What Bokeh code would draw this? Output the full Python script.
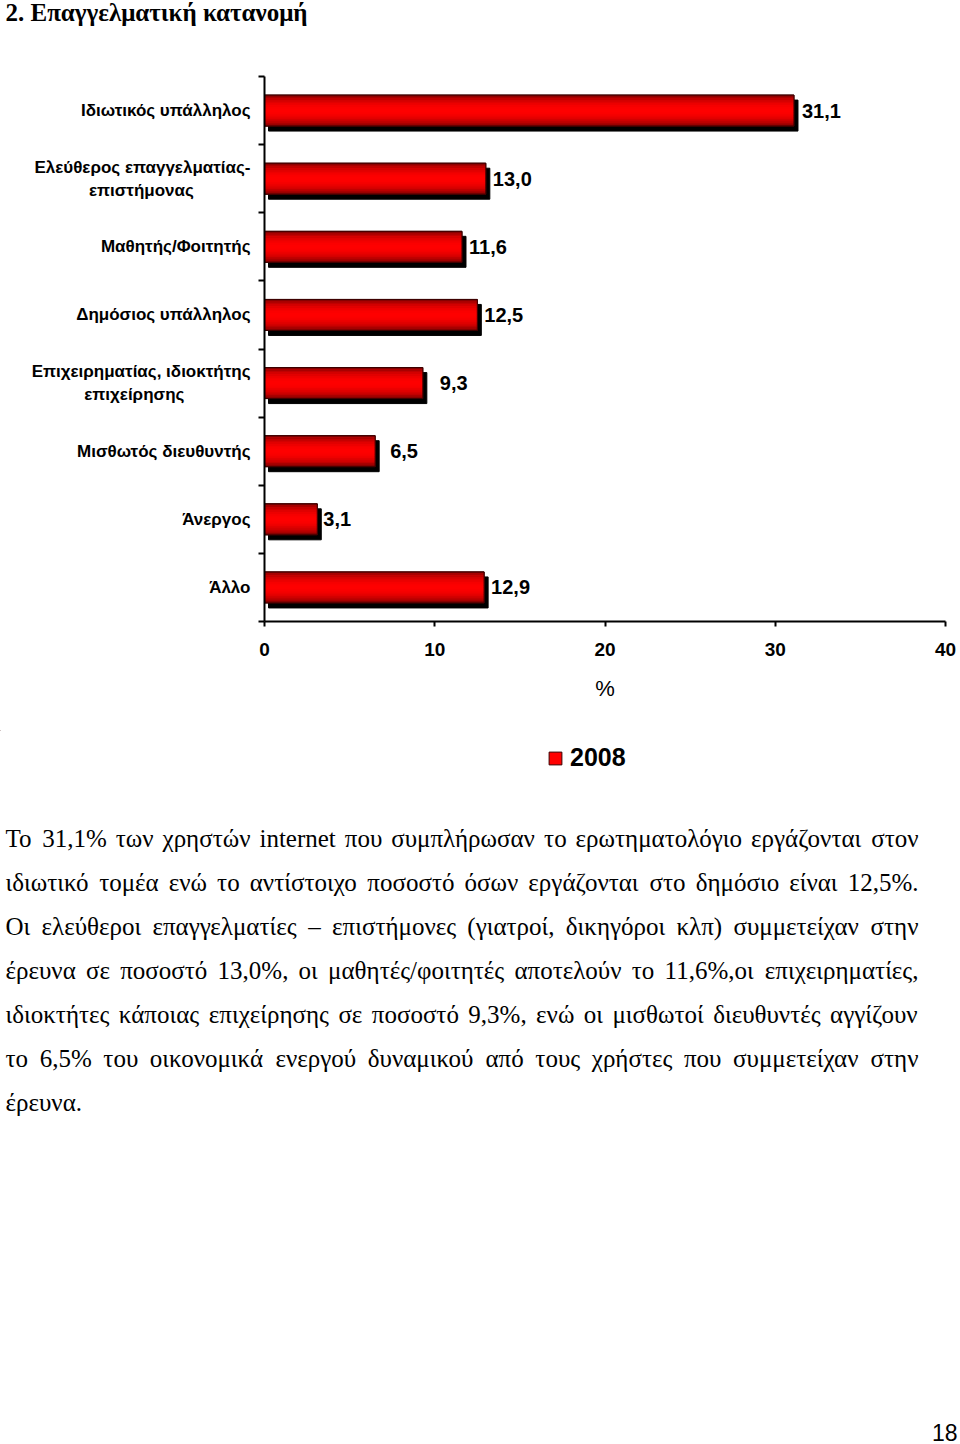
import math
import glob
import os
import struct
from bokeh.plotting import figure
from bokeh.layouts import column
from bokeh.models import (ColumnDataSource, Range1d, FixedTicker, Legend, LegendItem)
from bokeh.core.properties import value
from bokeh.embed import file_html
from bokeh.resources import INLINE

# ---------------- data ----------------
page_title = "2. Επαγγελματική κατανομή"
categories = [
    "Ιδιωτικός υπάλληλος",
    "Ελεύθερος επαγγελματίας-\nεπιστήμονας",
    "Μαθητής/Φοιτητής",
    "Δημόσιος υπάλληλος",
    "Επιχειρηματίας, ιδιοκτήτης\nεπιχείρησης",
    "Μισθωτός διευθυντής",
    "Άνεργος",
    "Άλλο",
]
values_2008 = [31.1, 13.0, 11.6, 12.5, 9.3, 6.5, 3.1, 12.9]
series_name = "2008"
x_ticks = [0, 10, 20, 30, 40]
x_axis_title = "%"
paragraph_lines = [
    "Το 31,1%  των χρηστών internet που συμπλήρωσαν το ερωτηματολόγιο εργάζονται στον",
    "ιδιωτικό τομέα ενώ το αντίστοιχο ποσοστό όσων εργάζονται στο δημόσιο είναι 12,5%.",
    "Οι ελεύθεροι επαγγελματίες – επιστήμονες (γιατροί, δικηγόροι κλπ)  συμμετείχαν στην",
    "έρευνα σε ποσοστό 13,0%, οι μαθητές/φοιτητές αποτελούν το 11,6%,οι επιχειρηματίες,",
    "ιδιοκτήτες κάποιας επιχείρησης σε ποσοστό 9,3%, ενώ οι μισθωτοί διευθυντές αγγίζουν",
    "το 6,5% του οικονομικά ενεργού δυναμικού από τους χρήστες που συμμετείχαν στην",
    "έρευνα.",
]
page_number = "18"

# ---------------- layout / style ----------------
W, H = 960, 1444
TOP_H = 40            # title strip
SPLIT = 730           # where the chart figure ends and the text figure begins
FL, FR = 264, 15
FRAME_TOP, FRAME_BOT = 76, 621
CH = SPLIT - TOP_H
FT = FRAME_TOP - TOP_H
FH = FRAME_BOT - FRAME_TOP
FB = CH - FT - FH
FW = W - FL - FR
n = len(categories)
ppx = FW / (x_ticks[-1] - x_ticks[0])
ppy = FH / n
label_gap_px = [8, 7, 7, 7, 17, 15, 6, 7]
BASE_FIX = 0.38       # empirical shift of the alphabetic baseline (in em)
PARA_SIZE = 25


def no_align(f):
    try:
        f.frame_align = False
    except Exception:
        pass


def blank_fig(height):
    f = figure(width=W, height=height, x_range=Range1d(0, W),
               y_range=Range1d(height, 0), output_backend="svg",
               toolbar_location=None, x_axis_type=None, y_axis_type=None,
               min_border=0, min_border_left=0, min_border_right=0,
               min_border_top=0, min_border_bottom=0)
    f.outline_line_color = None
    f.xgrid.visible = False
    f.ygrid.visible = False
    f.border_fill_color = "white"
    f.background_fill_color = "white"
    no_align(f)
    return f


# ---- font metrics (for justified paragraph) ----
def load_width_fn(fname):
    paths = []
    for root in ["/usr/share/fonts", "/usr/local/share/fonts",
                 os.path.expanduser("~/.fonts"), os.path.expanduser("~/.local/share/fonts")]:
        paths += glob.glob(os.path.join(root, "**", fname), recursive=True)
    if not paths:
        return None
    data = open(paths[0], "rb").read()
    num = struct.unpack(">H", data[4:6])[0]
    tables = {}
    for i in range(num):
        tag, _, off, ln = struct.unpack(">4sIII", data[12 + 16 * i:28 + 16 * i])
        tables[tag.decode("latin1")] = off
    upm = struct.unpack(">H", data[tables["head"] + 18:tables["head"] + 20])[0]
    nhm = struct.unpack(">H", data[tables["hhea"] + 34:tables["hhea"] + 36])[0]
    ho = tables["hmtx"]
    adv = [struct.unpack(">H", data[ho + 4 * i:ho + 4 * i + 2])[0] for i in range(nhm)]
    co = tables["cmap"]
    nsub = struct.unpack(">H", data[co + 2:co + 4])[0]
    sub = None
    for i in range(nsub):
        pid, eid, so = struct.unpack(">HHI", data[co + 4 + 8 * i:co + 12 + 8 * i])
        fmt = struct.unpack(">H", data[co + so:co + so + 2])[0]
        if fmt == 4 and (sub is None or (pid == 3 and eid == 1)):
            sub = co + so
    if sub is None:
        return None
    seg2 = struct.unpack(">H", data[sub + 6:sub + 8])[0]
    seg = seg2 // 2
    ends = struct.unpack(">%dH" % seg, data[sub + 14:sub + 14 + seg2])
    starts = struct.unpack(">%dH" % seg, data[sub + 16 + seg2:sub + 16 + 2 * seg2])
    deltas = struct.unpack(">%dh" % seg, data[sub + 16 + 2 * seg2:sub + 16 + 3 * seg2])
    rpos = sub + 16 + 3 * seg2
    roffs = struct.unpack(">%dH" % seg, data[rpos:rpos + seg2])

    def glyph(c):
        for j in range(seg):
            if ends[j] >= c:
                if starts[j] > c:
                    return 0
                if roffs[j] == 0:
                    return (c + deltas[j]) & 0xFFFF
                a = rpos + 2 * j + roffs[j] + 2 * (c - starts[j])
                g = struct.unpack(">H", data[a:a + 2])[0]
                return 0 if g == 0 else (g + deltas[j]) & 0xFFFF
        return 0

    def width(s, size):
        tot = 0
        for ch in s:
            g = glyph(ord(ch))
            tot += adv[g] if g < nhm else adv[-1]
        return tot * size / upm

    return width


try:
    serif_width = load_width_fn("LiberationSerif-Regular.ttf")
except Exception:
    serif_width = None

# ---- title strip ----
p0 = blank_fig(TOP_H)
p0.text(x=[5], y=[21 - BASE_FIX * 25], text=[page_title], text_font=value("Liberation Serif"),
        text_font_style="bold", text_font_size="25px", text_baseline="alphabetic",
        text_align="left", text_color="black")

# ---- chart ----
p = figure(width=W, height=CH, x_range=Range1d(x_ticks[0], x_ticks[-1]),
           y_range=Range1d(n - 0.5, -0.5), output_backend="svg",
           toolbar_location=None, min_border_left=FL, min_border_right=FR,
           min_border_top=FT, min_border_bottom=FB)
p.outline_line_color = None
p.xgrid.visible = False
p.ygrid.visible = False
p.background_fill_color = "white"
p.border_fill_color = "white"
no_align(p)

idx = list(range(n))
bh = 31 / ppy
dx, dy = 4 / ppx, 5 / ppy

shadow = ColumnDataSource(dict(y=[i + dy for i in idx], left=[dx] * n,
                               right=[v + dx for v in values_2008]))
p.hbar(y="y", left="left", right="right", height=bh, source=shadow,
       fill_color="black", line_color="black")

src = ColumnDataSource(dict(y=idx, v=values_2008,
                            lbl=[f"{v:.1f}".replace(".", ",") for v in values_2008],
                            gap=label_gap_px))
p.hbar(y="y", left=0, right="v", height=bh, source=src,
       fill_color="#ff0000", line_color="#3a0000", line_width=1)

nstrip = 18
for k in range(nstrip):
    t = (k + 0.5) / nstrip
    f = math.sin(math.pi * t) ** 0.6
    r = int(100 + (255 - 100) * f)
    col = "#%02x0000" % r
    off = -bh / 2 + t * bh
    s = ColumnDataSource(dict(y=[i + off for i in idx], v=values_2008))
    p.hbar(y="y", left=0, right="v", height=bh / nstrip * 1.15, source=s,
           fill_color=col, line_color=None)

p.hbar(y="y", left=0, right="v", height=bh, source=src, fill_alpha=0,
       line_color="#3a0000", line_width=1)

p.text(x="v", y="y", text="lbl", source=src, x_offset="gap",
       text_font=value("Liberation Sans"), text_font_style="bold",
       text_font_size="20px", text_baseline="middle", text_align="left",
       text_color="black")

# axes
xa = p.xaxis[0]
xa.ticker = FixedTicker(ticks=x_ticks)
xa.major_label_text_font = "Liberation Sans"
xa.major_label_text_font_style = "bold"
xa.major_label_text_font_size = "19px"
xa.major_label_text_color = "black"
xa.major_tick_out = 5
xa.major_tick_in = 0
xa.minor_tick_out = 0
xa.minor_tick_in = 0
xa.axis_line_width = 2
xa.axis_line_color = "black"
xa.major_tick_line_width = 2
xa.major_label_standoff = 16
xa.axis_label = x_axis_title
xa.axis_label_text_font = "Liberation Sans"
xa.axis_label_text_font_style = "normal"
xa.axis_label_text_font_size = "22px"
xa.axis_label_text_color = "black"
xa.axis_label_standoff = 17


def centered_label(text, char_px=8.6, nbsp_px=4.72):
    lines = text.split("\n")
    if len(lines) == 1:
        return text
    longest = max(len(s) for s in lines)
    out = []
    for s in lines:
        pad = int(round((longest - len(s)) * char_px / 2 / nbsp_px))
        out.append(s + "\u00a0" * pad)
    return "\n".join(out)


ya = p.yaxis[0]
ya.ticker = FixedTicker(ticks=idx, minor_ticks=[i - 0.5 for i in range(n + 1)])
ya.major_label_overrides = {i: centered_label(c) for i, c in zip(idx, categories)}
ya.major_label_text_font = "Liberation Sans"
ya.major_label_text_font_style = "bold"
ya.major_label_text_font_size = "17px"
ya.major_label_text_color = "black"
ya.major_tick_out = 0
ya.major_tick_in = 0
ya.minor_tick_out = 6
ya.minor_tick_in = 0
ya.minor_tick_line_width = 2
ya.minor_tick_line_color = "black"
ya.axis_line_width = 2
ya.axis_line_color = "black"
ya.major_label_standoff = 8

# ---- legend + paragraph ----
BH = H - SPLIT
p2 = blank_fig(BH)
leg_src = ColumnDataSource(dict(y=[-1000.0], left=[0.0], right=[0.0]))
leg_r = p2.hbar(y="y", left="left", right="right", height=1, source=leg_src,
                fill_color="#ff0000", line_color="#3a0000", line_width=1)
legend = Legend(items=[LegendItem(label=series_name, renderers=[leg_r])],
                location=(547, BH - (772 - SPLIT)), orientation="horizontal",
                glyph_width=16, glyph_height=16, label_standoff=7,
                label_text_font="Liberation Sans", label_text_font_style="bold",
                label_text_font_size="25px", label_text_color="black",
                padding=0, margin=0, spacing=0,
                border_line_alpha=0, background_fill_alpha=0)
p2.add_layout(legend)

L, R = 5, 918
base0, pitch = 847.5, 44
wx, wy, wt = [], [], []
rows = {"left": ([], [], []), "center": ([], [], []), "right": ([], [], [])}
ydraw = lambda Y: Y - SPLIT - BASE_FIX * PARA_SIZE

for li, line in enumerate(paragraph_lines):
    Y = base0 + li * pitch
    words = line.split()
    last = li == len(paragraph_lines) - 1
    if last or len(words) < 2:
        rows["left"][0].append(L); rows["left"][1].append(ydraw(Y)); rows["left"][2].append(line)
        continue
    if serif_width is not None:
        widths = [serif_width(w_, PARA_SIZE) for w_ in words]
        gap = (R - L - sum(widths)) / (len(words) - 1)
        x = L
        for w_, ww in zip(words, widths):
            wx.append(x); wy.append(ydraw(Y)); wt.append(w_)
            x += ww + gap
    else:
        nw = len(words)
        k1, k2 = nw // 3, (2 * nw) // 3
        left = " ".join(words[:k1]); mid = " ".join(words[k1:k2]); right = " ".join(words[k2:])
        total = len(left) + len(mid) + len(right) + 2
        cmid = (len(left) + 1 + len(mid) / 2) / total
        for txt, X, al in ((left, L, "left"), (mid, L + (R - L) * cmid, "center"), (right, R, "right")):
            rows[al][0].append(X); rows[al][1].append(ydraw(Y)); rows[al][2].append(txt)

if wt:
    p2.text(x=wx, y=wy, text=wt, text_font=value("Liberation Serif"),
            text_font_size=f"{PARA_SIZE}px", text_baseline="alphabetic", text_align="left",
            text_color="black")
for align, (xs, ys, ts) in rows.items():
    if ts:
        p2.text(x=xs, y=ys, text=ts, text_font=value("Liberation Serif"),
                text_font_size=f"{PARA_SIZE}px", text_baseline="alphabetic", text_align=align,
                text_color="black")

p2.text(x=[957], y=[1441 - SPLIT - BASE_FIX * 23], text=[page_number],
        text_font=value("Liberation Sans"), text_font_size="23px",
        text_baseline="alphabetic", text_align="right", text_color="black")

layout = column(p0, p, p2, spacing=0)
open("out.html", "w").write(file_html(layout, INLINE))
